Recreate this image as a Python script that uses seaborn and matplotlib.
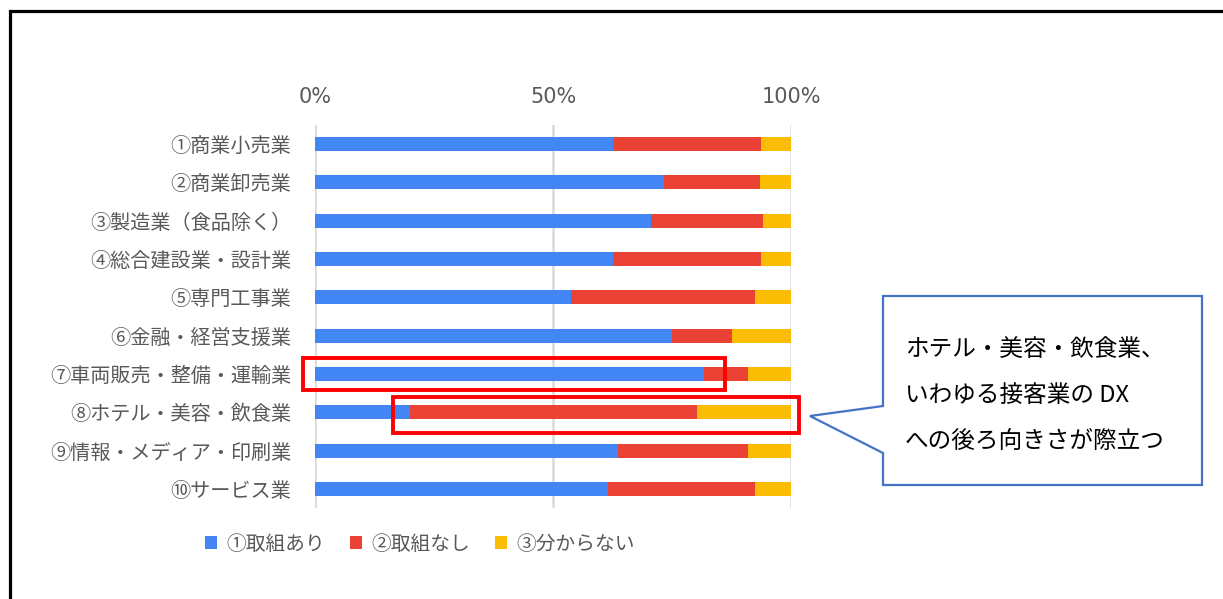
import matplotlib
matplotlib.use("Agg")
import matplotlib.pyplot as plt
from matplotlib.patches import Rectangle, Polygon
from matplotlib.lines import Line2D
from matplotlib.ticker import FuncFormatter
import pandas as pd
import seaborn as sns

# Survey data: share of companies working on DX, by industry (%)
industries = [
    "①商業小売業", "②商業卸売業", "③製造業（食品除く）", "④総合建設業・設計業",
    "⑤専門工事業", "⑥金融・経営支援業", "⑦車両販売・整備・運輸業",
    "⑧ホテル・美容・飲食業", "⑨情報・メディア・印刷業", "⑩サービス業",
]
doing = [62.6, 73.4, 70.5, 62.6, 53.7, 74.9, 81.8, 19.9, 63.6, 61.5]
not_doing = [31.2, 20.0, 23.6, 31.2, 38.7, 12.6, 9.1, 60.3, 27.3, 30.9]
unknown = [6.2, 6.6, 5.9, 6.2, 7.6, 12.5, 9.1, 19.8, 9.1, 7.6]

series_labels = ["①取組あり", "②取組なし", "③分からない"]
series_colors = ["#4285F4", "#EA4335", "#FBBC04"]
x_ticks = [0, 50, 100]

callout_lines = ["ホテル・美容・飲食業、", "いわゆる接客業の DX", "への後ろ向きさが際立つ"]

df = pd.DataFrame({"industry": industries, "doing": doing,
                   "not_doing": not_doing, "unknown": unknown})
df["end_doing"] = df["doing"]
df["end_not"] = df["doing"] + df["not_doing"]
df["end_unknown"] = df["end_not"] + df["unknown"]

sns.set_style("white")
plt.rcParams["font.family"] = ["Noto Sans CJK JP", "DejaVu Sans"]

W, H = 1223, 599
fig = plt.figure(figsize=(W / 100, H / 100), dpi=100)
ax = fig.add_axes([315 / W, 1 - 508.2 / H, (791 - 315) / W, (508.2 - 124.8) / H])

bar_w = 0.37
# stacked bars: widest (cumulative) segment first, then overlay the shorter ones
for col, lab, colr in [("end_unknown", series_labels[2], series_colors[2]),
                       ("end_not", series_labels[1], series_colors[1]),
                       ("end_doing", series_labels[0], series_colors[0])]:
    sns.barplot(data=df, x=col, y="industry", orient="h", color=colr,
                width=bar_w, linewidth=0, saturation=1, label=lab, ax=ax,
                zorder=3)

handles, labels = ax.get_legend_handles_labels()
if ax.get_legend() is not None:
    ax.get_legend().remove()

ax.set_xlim(0, 100)
ax.set_ylim(9.5, -0.5)
ax.set_xlabel("")
ax.set_ylabel("")
ax.set_xticks(x_ticks)
ax.xaxis.set_major_formatter(FuncFormatter(lambda v, p: f"{v:.0f}%"))
ax.xaxis.tick_top()
ax.tick_params(axis="x", length=0, pad=13, labelsize=15, labelcolor="#595959")
ax.tick_params(axis="y", length=0, pad=17, labelsize=14.5, labelcolor="#595959")
for lbl in ax.get_xticklabels():
    lbl.set_fontfamily(["DejaVu Sans"])
ax.xaxis.grid(True, color="#D9D9D9", linewidth=1.8, zorder=0)
ax.set_axisbelow(True)
for s in ax.spines.values():
    s.set_visible(False)

# highlight boxes around rows ⑦ and ⑧
ax.add_patch(Rectangle((-2.6, 6 - 0.42), 88.8, 0.84, fill=False,
                       edgecolor="#FF0000", linewidth=2.8, clip_on=False, zorder=5))
ax.add_patch(Rectangle((16.4, 7 - 0.39), 85.3, 0.94, fill=False,
                       edgecolor="#FF0000", linewidth=2.8, clip_on=False, zorder=5))

order = [labels.index(l) for l in series_labels]
leg = fig.legend([handles[i] for i in order], [labels[i] for i in order],
                 loc="center", bbox_to_anchor=(420 / W, 1 - 544 / H), ncol=3,
                 frameon=False, fontsize=14.2, handlelength=0.6, handleheight=0.6,
                 handletextpad=0.5, columnspacing=1.25)
for t in leg.get_texts():
    t.set_color("#595959")

# overlay in pixel coordinates for the frame and the speech bubble
ov = fig.add_axes([0, 0, 1, 1], zorder=10)
ov.set_xlim(0, W)
ov.set_ylim(H, 0)
ov.axis("off")
ov.patch.set_alpha(0)

ov.add_line(Line2D([10, 10, W], [H, 11, 11], color="black", linewidth=2.3,
                   solid_joinstyle="miter"))

bubble = Polygon([(883, 296), (1202, 296), (1202, 485), (883, 485), (883, 453),
                  (810, 416), (883, 406)], closed=True, facecolor="white",
                 edgecolor="#4472C4", linewidth=1.6, joinstyle="miter")
ov.add_patch(bubble)
for i, line in enumerate(callout_lines):
    ov.text(905, 349 + i * 46, line, fontsize=17, color="black",
            va="center", ha="left")

fig.savefig("out.png", dpi=100, facecolor="white")
